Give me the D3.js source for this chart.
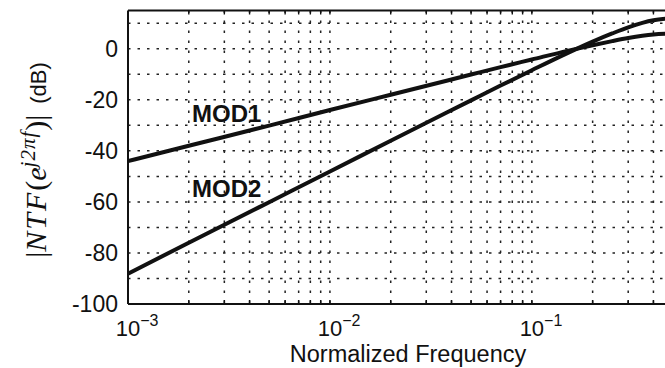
<!DOCTYPE html>
<html><head><meta charset="utf-8">
<script src="https://cdn.jsdelivr.net/npm/d3@7"></script>
<style>
html,body{margin:0;padding:0;background:#fff;}
svg{display:block;}
text{font-family:"Liberation Sans",Arial,sans-serif;fill:#111;}
</style></head>
<body>
<svg id="c" width="665" height="368"></svg>
<script>
// Data
const freq = [0.001, 0.002, 0.005, 0.01, 0.02, 0.05, 0.07, 0.1, 0.15, 0.2, 0.25, 0.3, 0.4, 0.5];
const mod1 = [-44.0, -38.0, -30.1, -24.0, -18.0, -10.1, -7.2, -4.2, -0.8, 1.4, 3.0, 4.2, 5.6, 6.0];
const mod2 = [-88.1, -76.0, -60.1, -48.1, -36.0, -20.2, -14.4, -8.4, -1.7, 2.8, 6.0, 8.4, 11.2, 12.0];
const seriesNames = ["MOD1", "MOD2"];
const yTicks = [0, -20, -40, -60, -80, -100];
const yGrid = [10, 0, -10, -20, -30, -40, -50, -60, -70, -80, -90];
const xMajor = [1e-3, 1e-2, 1e-1];
const xMajorExp = ["−3", "−2", "−1"];
const xLabel = "Normalized Frequency";

const svg = d3.select("#c");
const L = 128, T = 10.5, B = 304, R = 673;
const x = d3.scaleLog().domain([1e-3, 0.5]).range([L, R]);
const y = d3.scaleLinear().domain([-100, 15]).range([B, T]);

const defs = svg.append("defs");
defs.append("clipPath").attr("id", "clip").append("rect")
  .attr("x", L).attr("y", T).attr("width", R - L).attr("height", B - T);

// minor x positions
const xMinor = [];
[1e-3, 1e-2, 1e-1].forEach(d => { for (let k = 1; k <= 9; k++) { const v = d * k; if (v <= 0.5 && v > 1e-3) xMinor.push(v); } });

const g = svg.append("g");
// grid
g.append("g").selectAll("line").data(yGrid).join("line")
  .attr("x1", L).attr("x2", R).attr("y1", d => y(d)).attr("y2", d => y(d))
  .attr("stroke", "#222").attr("stroke-width", 1.5).attr("stroke-dasharray", "2.5,7");
g.append("g").selectAll("line").data(xMinor).join("line")
  .attr("x1", d => x(d)).attr("x2", d => x(d)).attr("y1", T).attr("y2", B)
  .attr("stroke", "#222").attr("stroke-width", 1.5).attr("stroke-dasharray", "2.5,7.5");

// ticks inside
g.append("g").selectAll("line").data(xMinor).join("line")
  .attr("x1", d => x(d)).attr("x2", d => x(d)).attr("y1", B).attr("y2", B - 4)
  .attr("stroke", "#111").attr("stroke-width", 1.4);
g.append("g").selectAll("line").data(xMinor).join("line")
  .attr("x1", d => x(d)).attr("x2", d => x(d)).attr("y1", T).attr("y2", T + 4)
  .attr("stroke", "#111").attr("stroke-width", 1.4);

// axes border
g.append("line").attr("x1", L).attr("x2", L).attr("y1", T).attr("y2", B).attr("stroke", "#111").attr("stroke-width", 2);
g.append("line").attr("x1", L).attr("x2", R).attr("y1", B).attr("y2", B).attr("stroke", "#111").attr("stroke-width", 2);
g.append("line").attr("x1", L).attr("x2", R).attr("y1", T).attr("y2", T).attr("stroke", "#111").attr("stroke-width", 2);

// curves
const line = d3.line().x(d => x(d[0])).y(d => y(d[1])).curve(d3.curveMonotoneX);
[mod1, mod2].forEach(s => {
  g.append("path").attr("clip-path", "url(#clip)")
    .datum(freq.map((f, i) => [f, s[i]]))
    .attr("d", line).attr("fill", "none").attr("stroke", "#111").attr("stroke-width", 4)
    .attr("stroke-linecap", "round");
});

// y tick labels
g.append("g").selectAll("text").data(yTicks).join("text")
  .attr("x", L - 10).attr("y", d => y(d)).attr("dy", "0.36em")
  .attr("text-anchor", "end").attr("font-size", 23).text(d => d);

// x tick labels
const fs = 22;
xMajor.forEach((v, i) => {
  const t = g.append("text").attr("x", x(v) - fs * 0.556).attr("y", 336).attr("font-size", fs);
  t.append("tspan").text("10");
  t.append("tspan").attr("font-size", 16).attr("dy", -10).text(xMajorExp[i]);
});
g.append("text").attr("x", 408).attr("y", 362).attr("text-anchor", "middle")
  .attr("font-size", 23.5).text(xLabel);

// series labels
g.append("text").attr("x", 192).attr("y", 122).attr("font-size", 24).attr("font-weight", "bold").text(seriesNames[0]);
g.append("text").attr("x", 192).attr("y", 197).attr("font-size", 24).attr("font-weight", "bold").text(seriesNames[1]);

// y axis label
const yl = g.append("text").attr("transform", "translate(46,160) rotate(-90)")
  .attr("text-anchor", "middle").attr("font-size", 30);
const serif = "Liberation Serif, serif";
yl.append("tspan").attr("font-family", serif).text("|");
yl.append("tspan").attr("font-family", serif).attr("font-style", "italic").attr("letter-spacing", 2).text("NTF");
yl.append("tspan").attr("font-family", serif).text("(");
yl.append("tspan").attr("font-family", serif).attr("font-style", "italic").text("e");
yl.append("tspan").attr("font-family", serif).attr("font-style", "italic").attr("font-size", 21).attr("dy", -11).attr("letter-spacing", 1).text("j2πf");
yl.append("tspan").attr("font-family", serif).attr("dy", 11).text(")|");
yl.append("tspan").attr("font-family", "Liberation Sans, sans-serif").attr("font-size", 22).text("\u2002(dB)");
</script>
</body></html>
